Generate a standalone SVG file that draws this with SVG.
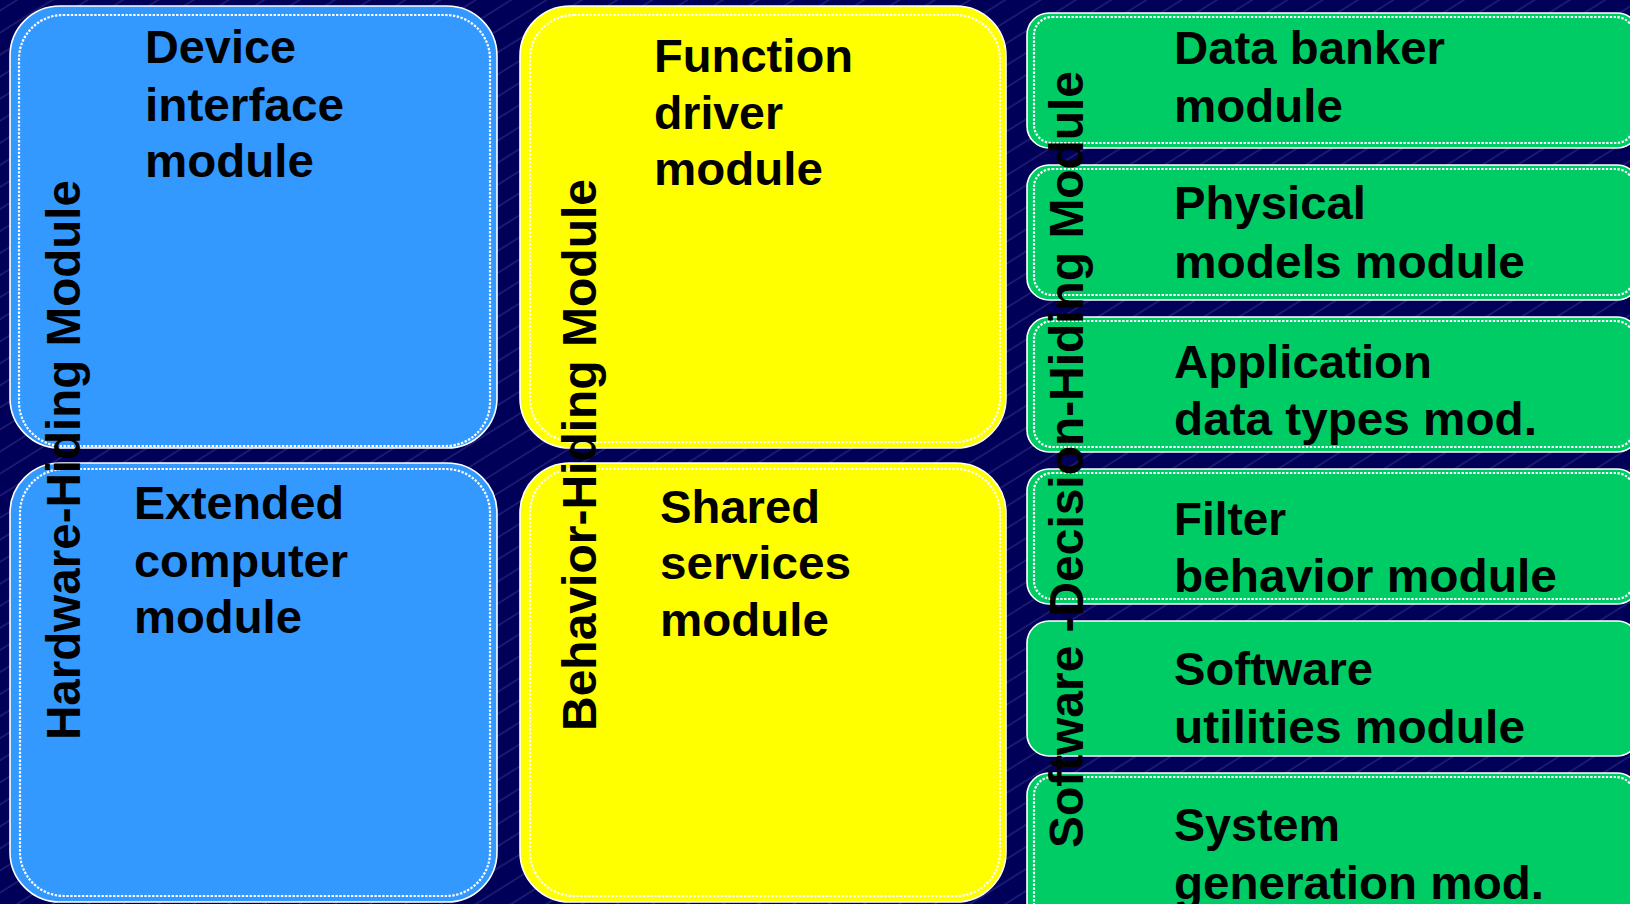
<svg xmlns="http://www.w3.org/2000/svg" width="1630" height="904" viewBox="0 0 1630 904">
<defs>
<pattern id="bgp" width="40" height="18.7" patternUnits="userSpaceOnUse" patternTransform="rotate(-32)">
<rect width="40" height="18.7" fill="#000058"/>
<line x1="0" y1="9" x2="40" y2="9" stroke="#46469a" stroke-width="0.7"/>
</pattern>
<style>
.outer{stroke:#ffffff;stroke-width:1.6}
.dots{fill:none;stroke:#ffffff;stroke-width:2.2;stroke-dasharray:2.4 1.5}
.blue{fill:#3399ff}
.yellow{fill:#ffff00}
.green{fill:#00cc66}
.t{font-family:"Liberation Sans",Arial,sans-serif;font-weight:bold;font-size:47px;fill:#000000}
.g{font-family:"Liberation Sans",Arial,sans-serif;font-weight:bold;font-size:47px;fill:#000000}
.v{font-family:"Liberation Sans",Arial,sans-serif;font-weight:bold;font-size:48px;fill:#000000}
</style>
</defs>
<rect x="0" y="0" width="1630" height="904" fill="url(#bgp)"/>

<g id="device-interface">
<rect class="outer blue" x="10" y="6" width="487" height="442" rx="50" ry="50"/>
<rect class="dots" x="19" y="15" width="471" height="431" rx="44" ry="44"/>
<text class="t" x="145" y="63" textLength="151" lengthAdjust="spacingAndGlyphs">Device</text>
<text class="t" x="145" y="121" textLength="199" lengthAdjust="spacingAndGlyphs">interface</text>
<text class="t" x="145" y="177" textLength="169" lengthAdjust="spacingAndGlyphs">module</text>
</g>

<g id="extended-computer">
<rect class="outer blue" x="10" y="463" width="487" height="439" rx="50" ry="50"/>
<rect class="dots" x="20" y="469" width="470" height="427" rx="44" ry="44"/>
<text class="t" x="134" y="519" textLength="210" lengthAdjust="spacingAndGlyphs">Extended</text>
<text class="t" x="134" y="577" textLength="214" lengthAdjust="spacingAndGlyphs">computer</text>
<text class="t" x="134" y="633" textLength="168" lengthAdjust="spacingAndGlyphs">module</text>
</g>

<g id="function-driver">
<rect class="outer yellow" x="520" y="6" width="486" height="442" rx="50" ry="50"/>
<rect class="dots" x="530" y="15" width="470" height="427" rx="44" ry="44"/>
<text class="t" x="654" y="72" textLength="199" lengthAdjust="spacingAndGlyphs">Function</text>
<text class="t" x="654" y="129" textLength="129" lengthAdjust="spacingAndGlyphs">driver</text>
<text class="t" x="654" y="185" textLength="169" lengthAdjust="spacingAndGlyphs">module</text>
</g>

<g id="shared-services">
<rect class="outer yellow" x="520" y="463" width="486" height="439" rx="50" ry="50"/>
<rect class="dots" x="530" y="469" width="470" height="427" rx="44" ry="44"/>
<text class="t" x="660" y="523" textLength="160" lengthAdjust="spacingAndGlyphs">Shared</text>
<text class="t" x="660" y="579" textLength="191" lengthAdjust="spacingAndGlyphs">services</text>
<text class="t" x="660" y="636" textLength="169" lengthAdjust="spacingAndGlyphs">module</text>
</g>

<g id="data-banker">
<rect class="outer green" x="1027" y="13" width="612" height="135" rx="22" ry="22"/>
<rect class="dots" x="1034" y="17" width="600" height="126" rx="18" ry="18"/>
<text class="g" x="1174" y="64" textLength="271" lengthAdjust="spacingAndGlyphs">Data banker</text>
<text class="g" x="1174" y="122" textLength="169" lengthAdjust="spacingAndGlyphs">module</text>
</g>

<g id="physical-models">
<rect class="outer green" x="1027" y="165" width="612" height="135" rx="22" ry="22"/>
<rect class="dots" x="1034" y="169" width="600" height="126" rx="18" ry="18"/>
<text class="g" x="1174" y="219" textLength="192" lengthAdjust="spacingAndGlyphs">Physical</text>
<text class="g" x="1174" y="278" textLength="351" lengthAdjust="spacingAndGlyphs">models module</text>
</g>

<g id="application-data-types">
<rect class="outer green" x="1027" y="317" width="612" height="135" rx="22" ry="22"/>
<rect class="dots" x="1034" y="321" width="600" height="126" rx="18" ry="18"/>
<text class="g" x="1174" y="378" textLength="258" lengthAdjust="spacingAndGlyphs">Application</text>
<text class="g" x="1174" y="435" textLength="363" lengthAdjust="spacingAndGlyphs">data types mod.</text>
</g>

<g id="filter-behavior">
<rect class="outer green" x="1027" y="469" width="612" height="135" rx="22" ry="22"/>
<rect class="dots" x="1034" y="473" width="600" height="126" rx="18" ry="18"/>
<text class="g" x="1174" y="535" textLength="112" lengthAdjust="spacingAndGlyphs">Filter</text>
<text class="g" x="1174" y="592" textLength="383" lengthAdjust="spacingAndGlyphs">behavior module</text>
</g>

<g id="software-utilities">
<rect class="outer green" x="1027" y="621" width="612" height="135" rx="22" ry="22"/>
<text class="g" x="1174" y="685" textLength="199" lengthAdjust="spacingAndGlyphs">Software</text>
<text class="g" x="1174" y="743" textLength="351" lengthAdjust="spacingAndGlyphs">utilities module</text>
</g>

<g id="system-generation">
<rect class="outer green" x="1027" y="773" width="612" height="160" rx="22" ry="22"/>
<rect class="dots" x="1034" y="777" width="600" height="150" rx="18" ry="18"/>
<text class="g" x="1174" y="841" textLength="166" lengthAdjust="spacingAndGlyphs">System</text>
<text class="g" x="1174" y="899" textLength="370" lengthAdjust="spacingAndGlyphs">generation mod.</text>
</g>

<g id="group-labels">
<text class="v" transform="translate(80,740) rotate(-90)" textLength="560" lengthAdjust="spacingAndGlyphs">Hardware-Hiding Module</text>
<text class="v" transform="translate(596,731) rotate(-90)" textLength="552" lengthAdjust="spacingAndGlyphs">Behavior-Hiding Module</text>
<text class="v" transform="translate(1083,848) rotate(-90)" textLength="777" lengthAdjust="spacingAndGlyphs">Software -Decision-Hiding Module</text>
</g>

<g id="connectors"></g>
</svg>
